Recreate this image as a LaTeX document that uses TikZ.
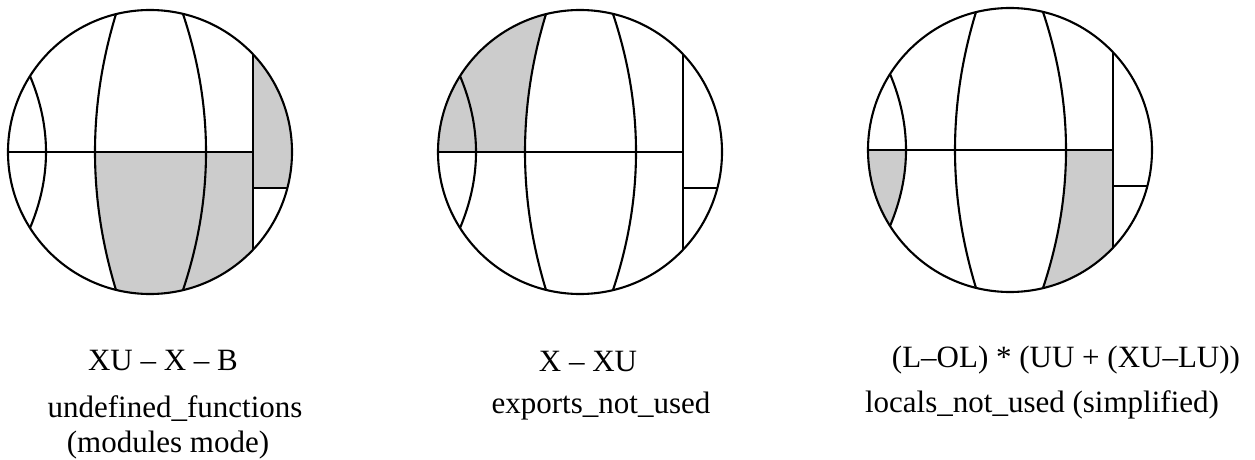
\documentclass[tikz,border=0pt]{standalone}
\usepackage{fontspec}
\setmainfont{Liberation Serif}
\tikzset{
  region/.style={fill=black!20, draw=none},
  seg/.style={line width=2.1pt, draw=black},
  lbl/.style={font=\fontsize{31}{37}\selectfont, anchor=base, inner sep=0pt},
}
\newcommand\segdiagram[1]{%
  \begin{scope}
    \clip (0,0) circle[radius=142];
    #1
  \end{scope}
  \draw[seg] (0,0) circle[radius=142];
  \draw[seg] (-142,0) -- (103,0);
  \draw[seg] (103,-97.75) -- (103,97.75);
  \draw[seg] (103,36) -- (137.4,36);
  \draw[seg] (-120,-76) .. controls (-98.67,-25.33) and (-98.67,25.33) .. (-120,76);
  \draw[seg] (-34,-138) .. controls (-62,-46) and (-62,46) .. (-34,138);
  \draw[seg] (33,-138) .. controls (63.67,-46) and (63.67,46) .. (33,138);
}
\begin{document}
\begin{tikzpicture}[x=1pt,y=-1pt]
\useasboundingbox (0,0) rectangle (1255,460);
% diagram 1
\begin{scope}[shift={(150,152)}]
  \segdiagram{%
    \fill[region] (-55,0) .. controls (-55,46) and (-48,92) .. (-34,138) -- (-34,160) -- (103,160) -- (103,0) -- cycle;
    \fill[region] (103,-160) rectangle (160,36);
  }
\end{scope}
% diagram 2
\begin{scope}[shift={(580,152)}]
  \segdiagram{%
    \fill[region] (-160,0) -- (-55,0) .. controls (-55,-46) and (-48,-92) .. (-34,-138) -- (-34,-160) -- (-160,-160) -- cycle;
  }
\end{scope}
% diagram 3
\begin{scope}[shift={(1010,150)}]
  \segdiagram{%
    \fill[region] (-160,0) -- (-104,0) .. controls (-104,25.33) and (-109.33,50.67) .. (-120,76) -- (-160,76) -- cycle;
    \fill[region] (56,0) .. controls (56,46) and (48.33,92) .. (33,138) -- (33,160) -- (103,160) -- (103,0) -- cycle;
  }
\end{scope}
% labels
\node[lbl] (t1a) at (163,370) {XU – X – B};
\node[lbl] (t1b) at (175,417) {undefined\_functions};
\node[lbl] (t1c) at (168,452) {(modules mode)};
\node[lbl] (t2a) at (588,371) {X – XU};
\node[lbl] (t2b) at (601,413) {exports\_not\_used};
\node[lbl] (t3a) at (1066,367) {(L–OL) * (UU + (XU–LU))};
\node[lbl] (t3b) at (1042,412) {locals\_not\_used (simplified)};
\end{tikzpicture}
\end{document}
